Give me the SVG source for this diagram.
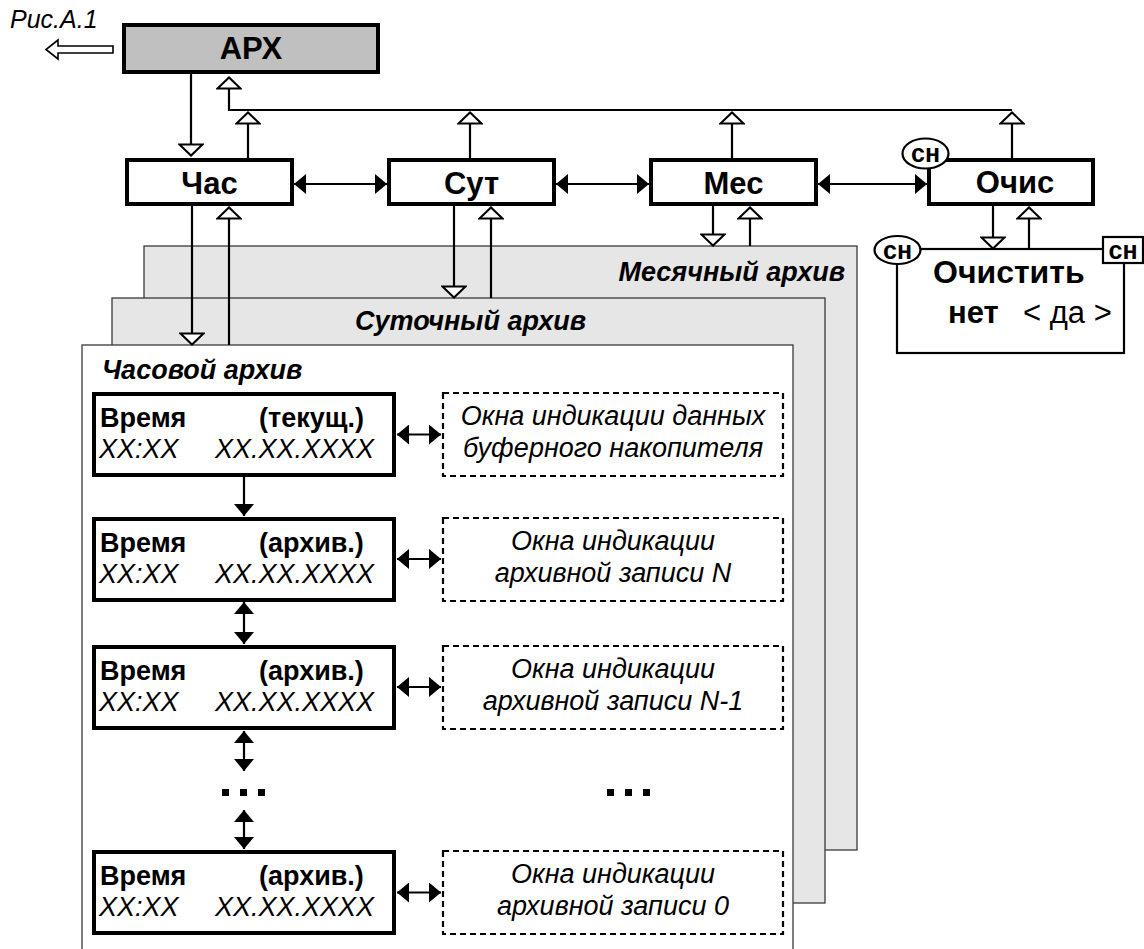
<svg xmlns="http://www.w3.org/2000/svg" width="1144" height="949" viewBox="0 0 1144 949">
<style>
text{font-family:"Liberation Sans",Arial,sans-serif;fill:#000}
.b{font-weight:bold}
.i{font-style:italic}
.bi{font-weight:bold;font-style:italic}
.tb{fill:#fff;stroke:#000;stroke-width:4}
.apx{fill:#c0c0c0;stroke:#000;stroke-width:4}
.sg{fill:#e6e6e6;stroke:#3a3a3a;stroke-width:1.3}
.sw{fill:#fff;stroke:#3a3a3a;stroke-width:1.3}
.dash{fill:#fff;stroke:#000;stroke-width:2.2;stroke-dasharray:6 4}
.thin{fill:#fff;stroke:#000;stroke-width:2.2}
.ln{fill:none;stroke:#000;stroke-width:2.2}
.h{marker-end:url(#ha)}
.f{marker-end:url(#fa)}
.ff{marker-start:url(#fa);marker-end:url(#fa)}
</style>
<defs>
<marker id="fa" viewBox="0 0 12 20" refX="12" refY="10" markerWidth="12" markerHeight="20" markerUnits="userSpaceOnUse" orient="auto-start-reverse"><path d="M0,0 L12,10 L0,20 z" fill="#000"/></marker>
<marker id="ha" viewBox="0 0 14 26" refX="13" refY="13" markerWidth="14" markerHeight="26" markerUnits="userSpaceOnUse" orient="auto"><path d="M1.5,1.5 L12.5,13 L1.5,24.5 z" fill="#fff" stroke="#000" stroke-width="2"/></marker>
</defs>

<g id="sheets">
<rect id="sheet-month" class="sg" x="144" y="246" width="713" height="604"/>
<text class="bi" x="845" y="281" font-size="27" text-anchor="end">Месячный архив</text>
<rect id="sheet-day" class="sg" x="112" y="298" width="713" height="605"/>
<text class="bi" x="355" y="330" font-size="27">Суточный архив</text>
<rect id="sheet-hour" class="sw" x="82" y="345" width="711" height="620"/>
<text class="bi" x="102" y="379" font-size="27">Часовой архив</text>
</g>

<g id="connectors">
<polygon points="113,46 58,46 58,40 46,49.5 58,59 58,53 113,53" fill="#fff" stroke="#000" stroke-width="1.6"/>
<line class="ln h" x1="191" y1="74" x2="191" y2="156"/>
<line class="ln h" x1="248" y1="158" x2="248" y2="112"/>
<polyline class="ln h" points="1012,110 229,110 229,77"/>
<line class="ln h" x1="470" y1="158" x2="470" y2="112"/>
<line class="ln h" x1="732" y1="158" x2="732" y2="112"/>
<line class="ln h" x1="1012" y1="158" x2="1012" y2="112"/>
<line class="ln ff" x1="294" y1="184" x2="387" y2="184"/>
<line class="ln ff" x1="556" y1="184" x2="649" y2="184"/>
<line class="ln ff" x1="818" y1="184" x2="927" y2="184"/>
<line class="ln h" x1="192" y1="206" x2="192" y2="345"/>
<line class="ln h" x1="229" y1="345" x2="229" y2="207"/>
<line class="ln h" x1="454" y1="206" x2="454" y2="298"/>
<line class="ln h" x1="491" y1="298" x2="491" y2="207"/>
<line class="ln h" x1="713" y1="206" x2="713" y2="246"/>
<line class="ln h" x1="750" y1="246" x2="750" y2="207"/>
<line class="ln h" x1="993" y1="206" x2="993" y2="249"/>
<line class="ln h" x1="1029" y1="249" x2="1029" y2="207"/>
<line class="ln f" x1="244" y1="477" x2="244" y2="516"/>
<line class="ln ff" x1="244" y1="602" x2="244" y2="644"/>
<line class="ln ff" x1="244" y1="731" x2="244" y2="771"/>
<line class="ln ff" x1="244" y1="810" x2="244" y2="849"/>
<line class="ln ff" x1="397" y1="434.5" x2="441" y2="434.5"/>
<line class="ln ff" x1="397" y1="559" x2="441" y2="559"/>
<line class="ln ff" x1="397" y1="687" x2="441" y2="687"/>
<line class="ln ff" x1="397" y1="892.5" x2="441" y2="892.5"/>
</g>

<text class="i" x="10" y="28" font-size="25">Рис.А.1</text>

<g id="node-apx">
<rect class="apx" x="124" y="25" width="254" height="47"/>
<text class="b" x="251" y="59" font-size="31" text-anchor="middle">АРХ</text>
</g>
<g id="node-chas">
<rect class="tb" x="127" y="160" width="165" height="44"/>
<text class="b" x="209.5" y="194" font-size="31" text-anchor="middle">Час</text>
</g>
<g id="node-sut">
<rect class="tb" x="389" y="160" width="165" height="44"/>
<text class="b" x="471.5" y="194" font-size="31" text-anchor="middle">Сут</text>
</g>
<g id="node-mes">
<rect class="tb" x="651" y="160" width="165" height="44"/>
<text class="b" x="733.5" y="194" font-size="31" text-anchor="middle">Мес</text>
</g>
<g id="node-ochis">
<rect class="tb" x="929" y="160" width="164" height="44"/>
<text class="b" x="1015" y="193" font-size="31" text-anchor="middle">Очис</text>
<ellipse class="thin" cx="925.5" cy="153.5" rx="23" ry="15"/>
<text class="b" x="925.5" y="162" font-size="25" text-anchor="middle">сн</text>
</g>
<g id="node-ochistit">
<rect class="thin" x="897" y="249" width="227" height="104"/>
<text class="b" x="933" y="283" font-size="32">Очистить</text>
<text class="b" x="948" y="323" font-size="31">нет</text>
<text x="1023" y="323" font-size="31">&lt; да &gt;</text>
<ellipse class="thin" cx="897.5" cy="250" rx="23" ry="14"/>
<text class="b" x="897.5" y="258.5" font-size="25" text-anchor="middle">сн</text>
<rect class="thin" x="1103" y="237" width="40" height="26"/>
<text class="b" x="1123" y="258.5" font-size="25" text-anchor="middle">сн</text>
</g>

<g id="row-cur">
<rect class="tb" x="94" y="394" width="300" height="81"/>
<text class="b" x="100" y="427" font-size="27">Время</text>
<text class="b" x="259" y="427" font-size="27">(текущ.)</text>
<text class="i" x="99" y="458" font-size="27">XX:XX</text>
<text class="i" x="215" y="458" font-size="27">XX.XX.XXXX</text>
</g>
<g id="win-cur">
<rect class="dash" x="443" y="393" width="340" height="83"/>
<text class="i" x="613" y="425" font-size="27" text-anchor="middle">Окна индикации данных</text>
<text class="i" x="613" y="457" font-size="27" text-anchor="middle">буферного накопителя</text>
</g>

<g id="row-n">
<rect class="tb" x="94" y="519" width="300" height="81"/>
<text class="b" x="100" y="552" font-size="27">Время</text>
<text class="b" x="259" y="552" font-size="27">(архив.)</text>
<text class="i" x="99" y="583" font-size="27">XX:XX</text>
<text class="i" x="215" y="583" font-size="27">XX.XX.XXXX</text>
</g>
<g id="win-n">
<rect class="dash" x="443" y="518" width="340" height="83"/>
<text class="i" x="613" y="550" font-size="27" text-anchor="middle">Окна индикации</text>
<text class="i" x="613" y="582" font-size="27" text-anchor="middle">архивной записи N</text>
</g>

<g id="row-n1">
<rect class="tb" x="94" y="647" width="300" height="81"/>
<text class="b" x="100" y="680" font-size="27">Время</text>
<text class="b" x="259" y="680" font-size="27">(архив.)</text>
<text class="i" x="99" y="711" font-size="27">XX:XX</text>
<text class="i" x="215" y="711" font-size="27">XX.XX.XXXX</text>
</g>
<g id="win-n1">
<rect class="dash" x="443" y="646" width="340" height="83"/>
<text class="i" x="613" y="678" font-size="27" text-anchor="middle">Окна индикации</text>
<text class="i" x="613" y="710" font-size="27" text-anchor="middle">архивной записи N-1</text>
</g>

<g id="dots">
<rect x="222" y="789" width="7" height="7"/>
<rect x="240" y="789" width="7" height="7"/>
<rect x="258" y="789" width="7" height="7"/>
<rect x="607" y="789" width="7" height="7"/>
<rect x="625" y="789" width="7" height="7"/>
<rect x="643" y="789" width="7" height="7"/>
</g>

<g id="row-0">
<rect class="tb" x="94" y="852" width="300" height="81"/>
<text class="b" x="100" y="885" font-size="27">Время</text>
<text class="b" x="259" y="885" font-size="27">(архив.)</text>
<text class="i" x="99" y="916" font-size="27">XX:XX</text>
<text class="i" x="215" y="916" font-size="27">XX.XX.XXXX</text>
</g>
<g id="win-0">
<rect class="dash" x="443" y="851" width="340" height="83"/>
<text class="i" x="613" y="883" font-size="27" text-anchor="middle">Окна индикации</text>
<text class="i" x="613" y="915" font-size="27" text-anchor="middle">архивной записи 0</text>
</g>
</svg>
